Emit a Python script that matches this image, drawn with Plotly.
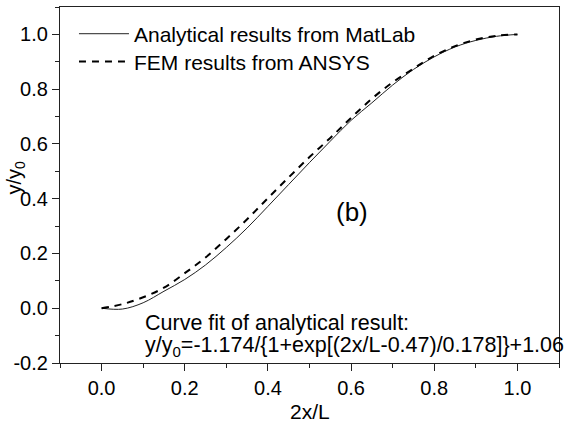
import plotly.graph_objects as go

x_vals = [0.00, 0.05, 0.10, 0.15, 0.20, 0.25, 0.30, 0.35, 0.40, 0.45, 0.50,
          0.55, 0.60, 0.65, 0.70, 0.75, 0.80, 0.85, 0.90, 0.95, 1.00]
analytical = [0.000, -0.003, 0.020, 0.062, 0.105, 0.158, 0.222, 0.293, 0.372, 0.452, 0.532,
              0.610, 0.686, 0.750, 0.815, 0.872, 0.918, 0.954, 0.978, 0.993, 1.000]
fem = [0.000, 0.015, 0.040, 0.075, 0.128, 0.185, 0.253, 0.325, 0.402, 0.478, 0.552,
       0.622, 0.695, 0.765, 0.825, 0.875, 0.922, 0.957, 0.981, 0.995, 1.000]

x_ticks = [0.0, 0.2, 0.4, 0.6, 0.8, 1.0]
y_ticks = [-0.2, 0.0, 0.2, 0.4, 0.6, 0.8, 1.0]

FONT = "Liberation Sans, Arial, sans-serif"

fig = go.Figure()
fig.add_trace(go.Scatter(x=x_vals, y=analytical, mode="lines", line_shape="spline",
                         name="Analytical results from MatLab", legend="legend",
                         line=dict(color="#222222", width=1)))
fig.add_trace(go.Scatter(x=x_vals, y=fem, mode="lines", line_shape="spline",
                         name="FEM results from ANSYS", legend="legend2",
                         line=dict(color="black", width=2, dash="7px,6px")))

axis_common = dict(showline=True, linecolor="#222222", linewidth=1.3, mirror=True,
                   ticks="outside", ticklen=7, tickwidth=1.3, tickcolor="#222222",
                   showgrid=False, zeroline=False,
                   tickfont=dict(family=FONT, size=20, color="black"),
                   minor=dict(ticks="outside", ticklen=4, tickwidth=1.3, tickcolor="#222222", dtick=0.1))

fig.update_xaxes(range=[-0.1, 1.1], tickvals=x_ticks, ticktext=[f"{v:.1f}" for v in x_ticks],
                 **axis_common)
fig.update_yaxes(range=[-0.2, 1.1], tickvals=y_ticks, ticktext=[f"{v:.1f}" for v in y_ticks],
                 **axis_common)

fig.add_annotation(text="2x/L", xref="paper", yref="paper", x=0.5, y=-0.135,
                   showarrow=False, xanchor="center", yanchor="middle",
                   font=dict(family=FONT, size=21, color="black"))
fig.add_annotation(text="y/y<sub>0</sub>", textangle=-90, xref="paper", yref="paper",
                   x=-0.089, y=0.52, showarrow=False, xanchor="center", yanchor="middle",
                   font=dict(family=FONT, size=20, color="black"))
fig.add_annotation(text="(b)", xref="paper", yref="paper", x=0.585, y=0.425,
                   showarrow=False, xanchor="center", yanchor="middle",
                   font=dict(family=FONT, size=26, color="black"))
fig.add_annotation(text="Curve fit of analytical result:", xref="paper", yref="paper",
                   x=0.166, y=0.112, showarrow=False, xanchor="left", yanchor="middle",
                   font=dict(family=FONT, size=21.5, color="black"))
fig.add_annotation(text="y/y<sub>0</sub>=-1.174/{1+exp[(2x/L-0.47)/0.178]}+1.06",
                   xref="paper", yref="paper", x=0.166, y=0.046, showarrow=False,
                   xanchor="left", yanchor="middle",
                   font=dict(family=FONT, size=21.5, color="black"))

leg_common = dict(xanchor="left", yanchor="middle", bgcolor="rgba(0,0,0,0)",
                  borderwidth=0, itemwidth=50,
                  font=dict(family=FONT, size=21, color="black"))

fig.update_layout(
    width=568, height=429,
    margin=dict(l=60, r=9, t=7, b=66),
    paper_bgcolor="white", plot_bgcolor="white",
    showlegend=True,
    legend=dict(x=0.028, y=0.924, **leg_common),
    legend2=dict(x=0.028, y=0.846, **leg_common),
)

fig.write_html("out.html", config={"displayModeBar": False},
               post_script="document.body.style.margin='0px';document.body.style.padding='0px';")
